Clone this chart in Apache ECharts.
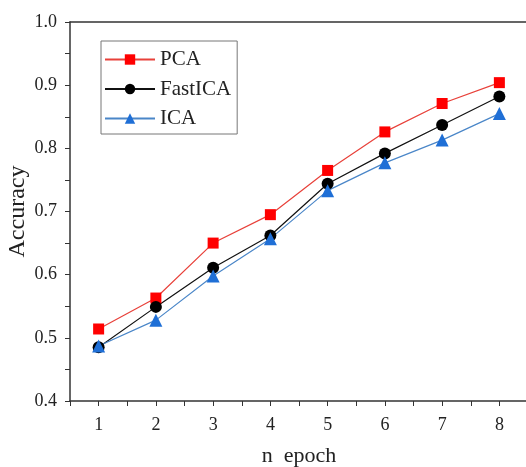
<!DOCTYPE html>
<html>
<head>
<meta charset="utf-8">
<script src="https://cdn.jsdelivr.net/npm/echarts@6/dist/echarts.min.js"></script>
<style>
html, body { margin: 0; padding: 0; background: #fff; }
#chart { width: 526px; height: 467px; }
</style>
</head>
<body>
<div id="chart"></div>
<script>
// 数据
var epochs = [1, 2, 3, 4, 5, 6, 7, 8];
var pcaAcc = [0.514, 0.563, 0.650, 0.695, 0.765, 0.826, 0.871, 0.904];
var fastIcaAcc = [0.485, 0.549, 0.611, 0.662, 0.744, 0.792, 0.837, 0.882];
var icaAcc = [0.487, 0.528, 0.598, 0.657, 0.733, 0.777, 0.813, 0.855];
var yTicks = [0.4, 0.5, 0.6, 0.7, 0.8, 0.9, 1.0];

var chart = echarts.init(document.getElementById('chart'));
var font = 'Liberation Serif, Times New Roman, serif';

function pairs(vals) {
    return epochs.map(function (e, i) { return [e, vals[i]]; });
}

var option = {
    backgroundColor: '#fff',
    animation: false,
    textStyle: { fontFamily: font },
    grid: { left: 70, right: -2, top: 22, bottom: 66, containLabel: false, outerBoundsMode: 'none' },
    legend: {
        orient: 'vertical',
        left: 101,
        top: 41,
        padding: [8, 6, 5, 3],
        borderColor: '#777',
        borderWidth: 1,
        itemWidth: 50,
        itemHeight: 13,
        itemGap: 8.5,
        textStyle: { fontFamily: font, fontSize: 21, color: '#222' },
        data: ['PCA', 'FastICA', 'ICA']
    },
    xAxis: [{
        type: 'value',
        min: 0.5,
        max: 8.5,
        interval: 0.5,
        name: 'n  epoch',
        nameLocation: 'middle',
        nameGap: 44,
        nameMoveOverlap: false,
        nameTextStyle: { fontFamily: font, fontSize: 22, color: '#222' },
        splitLine: { show: false },
        axisLine: { lineStyle: { color: '#333', width: 1.5 } },
        axisTick: { length: 5, lineStyle: { color: '#333' } },
        axisLabel: {
            fontFamily: font, fontSize: 18, color: '#222', margin: 15,
            formatter: function (v) { return epochs.indexOf(v) >= 0 ? String(v) : ''; }
        }
    }, {
        type: 'value',
        position: 'top',
        min: 0.5,
        max: 8.5,
        axisLine: { show: true, onZero: false, lineStyle: { color: '#333', width: 1.5 } },
        axisTick: { show: false },
        axisLabel: { show: false },
        splitLine: { show: false }
    }],
    yAxis: {
        type: 'value',
        min: 0.4,
        max: 1.0,
        interval: 0.05,
        name: 'Accuracy',
        nameLocation: 'middle',
        nameGap: 40,
        nameMoveOverlap: false,
        nameTextStyle: { fontFamily: font, fontSize: 24, color: '#222' },
        splitLine: { show: false },
        axisLine: { show: true, lineStyle: { color: '#333', width: 1.5 } },
        axisTick: { show: true, length: 5, lineStyle: { color: '#333' } },
        axisLabel: {
            fontFamily: font, fontSize: 18, color: '#222', margin: 13,
            formatter: function (v) {
                var r = Math.round(v * 100) / 100;
                return yTicks.some(function (t) { return Math.abs(t - r) < 1e-6; }) ? r.toFixed(1) : '';
            }
        }
    },
    series: [{
        name: 'PCA',
        type: 'line',
        data: pairs(pcaAcc),
        symbol: 'rect',
        symbolSize: 11,
        lineStyle: { color: '#e8413a', width: 1.2 },
        itemStyle: { color: '#ff0000' }
    }, {
        name: 'FastICA',
        type: 'line',
        data: pairs(fastIcaAcc),
        symbol: 'circle',
        symbolSize: 12,
        lineStyle: { color: '#111', width: 1.2 },
        itemStyle: { color: '#000' }
    }, {
        name: 'ICA',
        type: 'line',
        data: pairs(icaAcc),
        symbol: 'triangle',
        symbolSize: 13,
        lineStyle: { color: '#4a86c8', width: 1.2 },
        itemStyle: { color: '#1f6fd6' }
    }]
};
chart.setOption(option);
</script>
</body>
</html>
